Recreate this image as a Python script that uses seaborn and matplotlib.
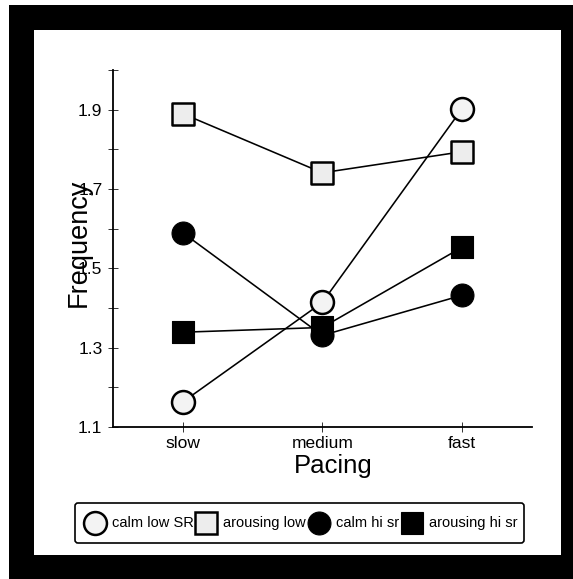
import matplotlib
matplotlib.use("Agg")
import matplotlib.pyplot as plt
from matplotlib.lines import Line2D
from matplotlib.patches import Rectangle
from matplotlib.legend_handler import HandlerLine2D
import numpy as np
import pandas as pd
import seaborn as sns

# ---- data -------------------------------------------------------------
pacing = ["slow", "medium", "fast"]
series_names = ["calm low SR", "arousing low", "calm hi sr", "arousing hi sr"]
calm_low_sr = [1.163, 1.414, 1.902]
arousing_low = [1.890, 1.741, 1.794]
calm_hi_sr = [1.590, 1.331, 1.432]
arousing_hi_sr = [1.339, 1.351, 1.553]
y_major_ticks = [1.1, 1.3, 1.5, 1.7, 1.9]
y_minor_ticks = [1.2, 1.4, 1.6, 1.8, 2.0]

values = [calm_low_sr, arousing_low, calm_hi_sr, arousing_hi_sr]
df = pd.DataFrame(
    [(name, p, v) for name, vals in zip(series_names, values) for p, v in zip(pacing, vals)],
    columns=["series", "Pacing", "Frequency"],
)

# ---- styling ----------------------------------------------------------
sns.set_style("ticks")
plt.rcParams["font.family"] = ["Liberation Sans", "DejaVu Sans"]
plt.rcParams["text.color"] = "black"
plt.rcParams["axes.labelcolor"] = "black"
plt.rcParams["xtick.labelcolor"] = "black"
plt.rcParams["ytick.labelcolor"] = "black"

marker_styles = {
    "calm low SR": dict(marker="o", facecolor="#f3f3f3", edgecolor="black", lw=1.8),
    "arousing low": dict(marker="s", facecolor="#ededed", edgecolor="black", lw=1.8),
    "calm hi sr": dict(marker="o", facecolor="black", edgecolor="black", lw=0.8),
    "arousing hi sr": dict(marker="s", facecolor="black", edgecolor="black", lw=0.8),
}
MS = 16.5  # marker size in points


class CenteredMarkerHandler(HandlerLine2D):
    """Legend handler that lowers the marker to sit level with the label text."""

    def __init__(self, shift=3.2, **kw):
        super().__init__(**kw)
        self._shift = shift

    def create_artists(self, legend, orig_handle, xdescent, ydescent, width, height,
                       fontsize, trans):
        artists = super().create_artists(legend, orig_handle, xdescent, ydescent,
                                         width, height, fontsize, trans)
        for a in artists:
            if isinstance(a, Line2D):
                a.set_ydata(np.asarray(a.get_ydata()) - self._shift)
        return artists


fig = plt.figure(figsize=(5.73, 5.79), dpi=100)
fig.patch.set_facecolor("white")

# black frame with white panel inside
fig.add_artist(Rectangle((0.0157, 0.0), 0.9843, 0.9914, transform=fig.transFigure,
                         facecolor="black", edgecolor="none", zorder=-10))
fig.add_artist(Rectangle((0.0593, 0.0415), 0.9197, 0.9065, transform=fig.transFigure,
                         facecolor="white", edgecolor="none", zorder=-9))

ax = fig.add_axes([0.197, 0.2625, 0.731, 0.6165])
ax.set_facecolor("none")

# connecting lines
for name in series_names:
    sub = df[df["series"] == name]
    sns.lineplot(data=sub, x="Pacing", y="Frequency", sort=False, color="black",
                 linewidth=1.15, ax=ax, zorder=2, legend=False)

# markers on top
for name in series_names:
    sub = df[df["series"] == name]
    st = marker_styles[name]
    sns.scatterplot(data=sub, x="Pacing", y="Frequency", marker=st["marker"], s=MS ** 2,
                    facecolor=st["facecolor"], edgecolor=st["edgecolor"], linewidth=st["lw"],
                    ax=ax, zorder=3, legend=False)

# axes
ax.set_xlim(-0.5, 2.5)
ax.set_ylim(1.1, 2.0)
ax.set_yticks(y_major_ticks)
ax.set_yticklabels([f"{t:.1f}" for t in y_major_ticks], fontsize=12.5)
ax.set_yticks(y_minor_ticks, minor=True)
ax.set_xticks(range(len(pacing)))
ax.set_xticklabels(pacing, fontsize=12.5)
ax.tick_params(axis="both", which="both", direction="inout", length=7, width=0.7,
               color="#333333", pad=4)
ax.tick_params(axis="x", pad=3)

for side in ("top", "right"):
    ax.spines[side].set_visible(False)
for side in ("left", "bottom"):
    ax.spines[side].set_linewidth(1.3)
    ax.spines[side].set_color("black")

ax.set_xlabel("Pacing", fontsize=18.5)
ax.set_ylabel("Frequency", fontsize=19.5)
ax.xaxis.set_label_coords(0.525, -0.075)
ax.yaxis.set_label_coords(-0.05, 0.515)

# legend with marker-only handles
handles = []
for name in series_names:
    st = marker_styles[name]
    handles.append(Line2D([], [], linestyle="none", marker=st["marker"], markersize=MS,
                          markerfacecolor=st["facecolor"], markeredgecolor=st["edgecolor"],
                          markeredgewidth=st["lw"]))
leg = fig.legend(handles, series_names, loc="center", bbox_to_anchor=(0.523, 0.097),
                 ncol=4, frameon=True, fancybox=True, fontsize=10.5,
                 handlelength=1.75, handleheight=2.4, handletextpad=0.3, columnspacing=0.0,
                 borderpad=0.45, borderaxespad=0.0,
                 handler_map={Line2D: CenteredMarkerHandler(shift=3.2)})
leg.get_frame().set_edgecolor("black")
leg.get_frame().set_linewidth(1.2)
leg.get_frame().set_alpha(1)

fig.savefig("out.png", dpi=100, facecolor=fig.get_facecolor())
